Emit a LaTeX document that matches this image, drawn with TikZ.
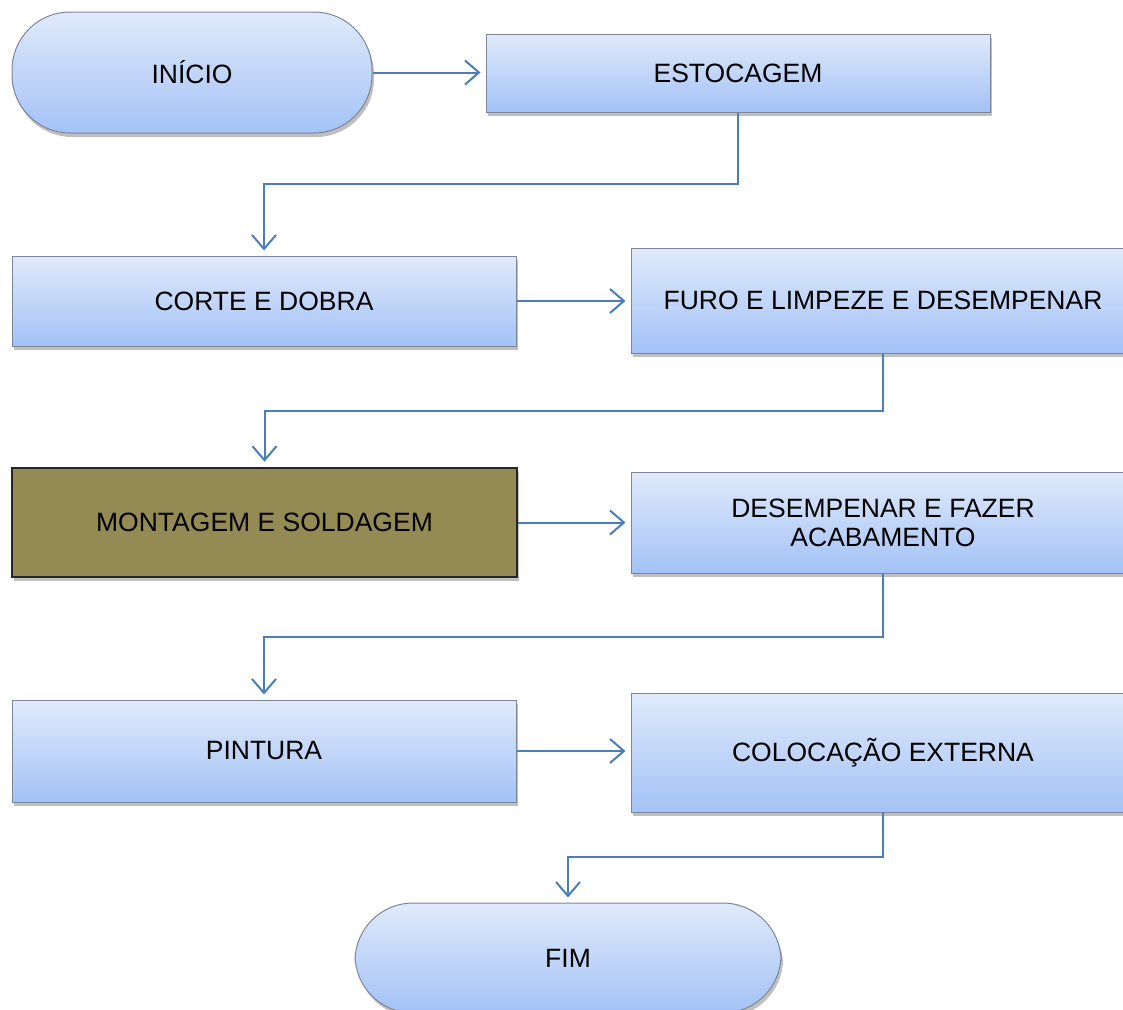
\documentclass[tikz,border=0pt]{standalone}
\usepackage{fontspec}
\setmainfont{Liberation Sans}
\usetikzlibrary{arrows.meta,shadows,calc}
\definecolor{gtop}{HTML}{E0EAFB}
\definecolor{gbot}{HTML}{A3C2F6}
\definecolor{boxborder}{HTML}{7D8696}
\definecolor{arrowblue}{HTML}{4A7EBB}
\definecolor{olive}{HTML}{948A54}
\tikzset{
  proc/.style={rectangle, draw=boxborder, line width=1pt, top color=gtop, bottom color=gbot,
    drop shadow={shadow xshift=2pt, shadow yshift=-4pt, opacity=0.25, fill=black},
    inner sep=0pt, align=center, font=\fontsize{26.5pt}{29pt}\selectfont},
  term/.style={proc, rounded corners=58pt},
  special/.style={proc, draw=black!85, line width=2.5pt, fill=olive, top color=olive, bottom color=olive},
  flow/.style={draw=arrowblue, line width=2pt, -{Straight Barb[length=14pt,width=24pt,line width=2pt]}, shorten >=5pt}
}
\begin{document}
\begin{tikzpicture}[x=1pt,y=-1pt]
\useasboundingbox (0,0) rectangle (1123,1009);
\node[term, minimum width=360pt, minimum height=121pt] (ini) at (192,72.5) {INÍCIO};
\node[proc, minimum width=504pt, minimum height=78pt] (est) at (738,73) {ESTOCAGEM};
\node[proc, minimum width=504pt, minimum height=90pt] (corte) at (264,301) {CORTE E DOBRA};
\node[proc, minimum width=504pt, minimum height=105pt] (furo) at (883,300.5) {FURO E LIMPEZE E DESEMPENAR};
\node[special, minimum width=505pt, minimum height=109pt] (mont) at (264.5,522.5) {MONTAGEM E SOLDAGEM};
\node[proc, minimum width=504pt, minimum height=101pt] (des) at (883,522.5) {DESEMPENAR E FAZER\\ACABAMENTO};
\node[proc, minimum width=504pt, minimum height=102pt] (pint) at (264,751) {PINTURA};
\node[proc, minimum width=504pt, minimum height=119pt] (col) at (883,752.5) {COLOCAÇÃO EXTERNA};
\node[term, minimum width=426pt, minimum height=110pt] (fim) at (568,958) {FIM};

\coordinate (b1) at (0,184);
\coordinate (b2) at (0,411);
\coordinate (b3) at (0,637);
\coordinate (b4) at (0,857);

\draw[flow] (ini.east) -- (ini.east -| est.west);
\draw[flow] (est.south) -- (est.south |- b1) -| (corte.north);
\draw[flow] (corte.east) -- (corte.east -| furo.west);
\draw[flow] (furo.south) -- (furo.south |- b2) -| (mont.north);
\draw[flow] (mont.east) -- (mont.east -| des.west);
\draw[flow] (des.south) -- (des.south |- b3) -| (pint.north);
\draw[flow] (pint.east) -- (pint.east -| col.west);
\draw[flow] (col.south) -- (col.south |- b4) -| (fim.north);
\end{tikzpicture}
\end{document}
